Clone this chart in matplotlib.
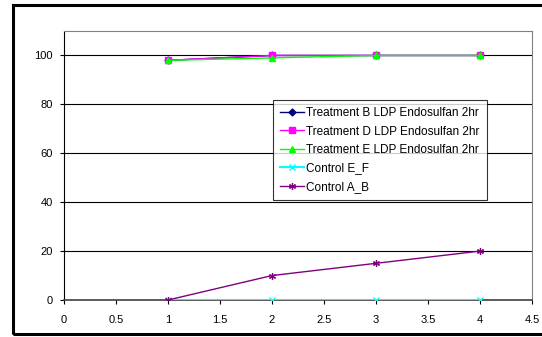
import matplotlib
matplotlib.use("Agg")
import matplotlib.pyplot as plt
from matplotlib.patches import Rectangle

plt.rcParams['font.family'] = ['Liberation Sans', 'DejaVu Sans']

x = [1, 2, 3, 4]
treat_b = [98, 100, 100, 100]
treat_d = [98, 100, 100, 100]
treat_e = [98, 99, 100, 100]
control_ef = [0, 0, 0, 0]
control_ab = [0, 10, 15, 20]

labels = ["Treatment B LDP Endosulfan 2hr", "Treatment D LDP Endosulfan 2hr",
          "Treatment E LDP Endosulfan 2hr", "Control E_F", "Control A_B"]
xticks = [0, 0.5, 1, 1.5, 2, 2.5, 3, 3.5, 4, 4.5]
yticks = [0, 20, 40, 60, 80, 100]

fig = plt.figure(figsize=(5.42, 3.37), dpi=100)
ax = fig.add_axes([64/542, 1 - 300/337, (532-64)/542, (300-31)/337])

for yv in yticks[1:]:
    ax.axhline(yv, color='black', lw=0.8, zorder=1)

ax.plot(x, treat_b, color='#000080', marker='D', ms=3.5, lw=1.0, label=labels[0], zorder=3)
ax.plot(x, treat_d, color='#FF00FF', marker='s', ms=4.5, lw=1.0, label=labels[1], zorder=4)
ax.plot(x, treat_e, color='#00FF00', marker='^', ms=5, lw=1.0, label=labels[2], zorder=5)
ax.plot(x, control_ef, color='#00FFFF', marker='x', ms=4.5, mew=1.0, lw=1.5, label=labels[3], zorder=3)
ax.plot(x, control_ab, color='#800080', marker=(6, 2, 0), ms=5, mew=0.9, lw=1.0, label=labels[4], zorder=4)

ax.set_xlim(0, 4.5)
ax.set_ylim(0, 110)
ax.set_xticks(xticks)
ax.set_xticklabels(['0', '0.5', '1', '1.5', '2', '2.5', '3', '3.5', '4', '4.5'])
ax.set_yticks(yticks)
ax.tick_params(axis='both', labelsize=8, length=3, width=0.8, color='black', direction='out', pad=5)
ax.tick_params(axis='x', pad=8)
for s in ['top', 'right']:
    ax.spines[s].set_color('#808080')
    ax.spines[s].set_linewidth(0.8)
ax.spines['left'].set_color('black')
ax.spines['left'].set_linewidth(0.8)
ax.spines['bottom'].set_color('#404040')
ax.spines['bottom'].set_linewidth(1.2)
ax.set_zorder(1)

leg = ax.legend(loc='upper left', bbox_to_anchor=((273-64)/468, 1 - (100-31)/269),
                fontsize=8.5, frameon=True, fancybox=False, edgecolor='black',
                handlelength=2.0, handletextpad=0.2, borderpad=0.6, labelspacing=0.55,
                borderaxespad=0)
leg.get_frame().set_linewidth(0.8)

fig.patches.append(Rectangle((13/542, 1 - 334/337), (560-13)/542, (334-5)/337,
                             transform=fig.transFigure, fill=False, edgecolor='black',
                             linewidth=2.2, zorder=0))

fig.savefig('out.png', dpi=100)
